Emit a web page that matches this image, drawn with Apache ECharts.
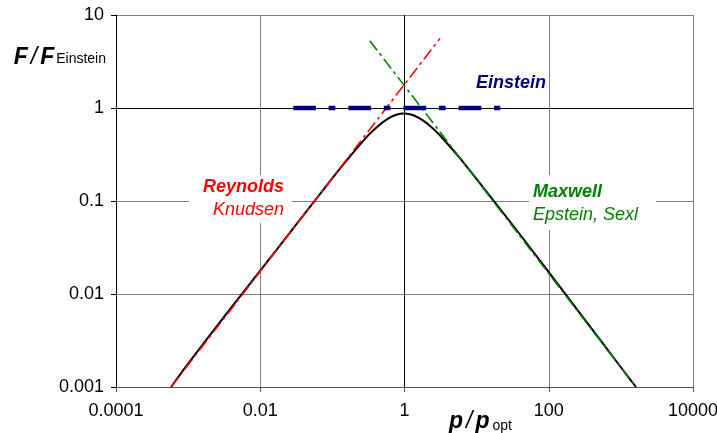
<!DOCTYPE html>
<html><head><meta charset="utf-8">
<script src="https://cdn.jsdelivr.net/npm/echarts@6/dist/echarts.min.js"></script>
<style>html,body{margin:0;padding:0;background:#fff}#c{width:717px;height:433px}</style>
</head><body><div id="c"></div>
<script>
// Combined curve F/F_Einstein vs p/p_opt
const curveP = [0.00058, 0.001, 0.00316, 0.01, 0.0316, 0.1, 0.178, 0.316, 0.42, 0.562, 0.75, 1, 1.33, 1.78, 2.37, 3.16, 5.62, 10, 31.6, 100, 316, 1000, 1620];
const curveF = [0.001, 0.00178, 0.0057, 0.0178, 0.056, 0.176, 0.305, 0.51, 0.63, 0.75, 0.84, 0.87, 0.835, 0.74, 0.62, 0.5, 0.3, 0.172, 0.0552, 0.0172, 0.0053, 0.00163, 0.001];
// Reynolds / Knudsen asymptote
const reynoldsP = [0.00058, 3.1];
const reynoldsF = [0.001, 5.6];
// Maxwell / Epstein, Sexl asymptote
const maxwellP = [0.33, 1620];
const maxwellF = [5.3, 0.001];
// Einstein level
const einsteinP = [0.0287, 21.3];
const einsteinF = [1, 1];
// Axis ticks
const xTicks = [0.0001, 0.01, 1, 100, 10000];
const xTickLabels = ['0.0001', '0.01', '1', '100', '10000'];
const yTicks = [0.001, 0.01, 0.1, 1, 10];
const yTickLabels = ['0.001', '0.01', '0.1', '1', '10'];

const FONT = '"Liberation Sans", Arial, sans-serif';
const zip = (a, b) => a.map((v, i) => [v, b[i]]);
const labelFor = (ticks, labels) => v => {
  const e = Math.round(Math.log10(v));
  const i = ticks.findIndex(t => Math.round(Math.log10(t)) === e);
  return i >= 0 ? labels[i] : '';
};
const GRID = '#7f7f7f';

const chart = echarts.init(document.getElementById('c'), null, {renderer: 'canvas'});
chart.setOption({
  animation: false,
  backgroundColor: '#fff',
  grid: {left: 116, right: 24, top: 15, bottom: 46, containLabel: false, outerBoundsMode: 'none'},
  xAxis: {
    type: 'log', logBase: 10, min: xTicks[0], max: xTicks[xTicks.length - 1],
    axisLine: {show: true, lineStyle: {color: '#555', width: 1}},
    axisTick: {show: true, length: 5, inside: false, customValues: xTicks, lineStyle: {color: '#555'}},
    axisLabel: {customValues: xTicks, formatter: labelFor(xTicks, xTickLabels), fontFamily: FONT, fontSize: 18, color: '#000', margin: 15, hideOverlap: false},
    splitLine: {show: true, lineStyle: {color: [GRID, GRID, '#000', GRID, GRID], width: 1}},
    minorTick: {show: false}, minorSplitLine: {show: false}
  },
  yAxis: {
    type: 'log', logBase: 10, min: yTicks[0], max: yTicks[yTicks.length - 1],
    axisLine: {show: true, lineStyle: {color: '#000', width: 1}},
    axisTick: {show: true, length: 5, inside: false, customValues: yTicks, lineStyle: {color: '#000'}},
    axisLabel: {customValues: yTicks, formatter: labelFor(yTicks, yTickLabels), fontFamily: FONT, fontSize: 18, color: '#000', margin: 12},
    splitLine: {show: true, lineStyle: {color: [GRID, GRID, GRID, '#000', GRID], width: 1}},
    minorTick: {show: false}, minorSplitLine: {show: false}
  },
  series: [
    {type: 'line', data: zip(curveP, curveF), smooth: 0.3, symbol: 'none', z: 2,
     lineStyle: {color: '#000', width: 2}},
    {type: 'line', data: zip(reynoldsP, reynoldsF), symbol: 'none', z: 3,
     lineStyle: {color: '#ff0000', width: 1.6, type: [12, 4, 3, 4], cap: 'butt'}},
    {type: 'line', data: zip(maxwellP, maxwellF), symbol: 'none', z: 3,
     lineStyle: {color: '#008000', width: 1.6, type: [12, 4, 3, 4], cap: 'butt'}},
    {type: 'line', data: zip(einsteinP, einsteinF), symbol: 'none', z: 4,
     lineStyle: {color: '#000080', width: 4.5, type: [22.7, 12.7, 6.7, 13], cap: 'butt'}}
  ],
  graphic: [
    {type: 'rect', z: 1, shape: {x: 189, y: 175, width: 103, height: 48}, style: {fill: '#fff'}},
    {type: 'rect', z: 1, shape: {x: 529, y: 175, width: 127, height: 55}, style: {fill: '#fff'}},
    {type: 'text', z: 5, x: 284, y: 187, style: {text: 'Reynolds', font: 'italic bold 18px ' + FONT, fill: '#ff0000', align: 'right', textAlign: 'right', verticalAlign: 'middle', textVerticalAlign: 'middle'}},
    {type: 'text', z: 5, x: 284, y: 210, style: {text: 'Knudsen', font: 'italic 18px ' + FONT, fill: '#ff0000', align: 'right', textAlign: 'right', verticalAlign: 'middle', textVerticalAlign: 'middle'}},
    {type: 'text', z: 5, x: 533, y: 192, style: {text: 'Maxwell', font: 'italic bold 18px ' + FONT, fill: '#008000', align: 'left', textAlign: 'left', verticalAlign: 'middle', textVerticalAlign: 'middle'}},
    {type: 'text', z: 5, x: 533, y: 215, style: {text: 'Epstein, Sexl', font: 'italic 18px ' + FONT, fill: '#008000', align: 'left', textAlign: 'left', verticalAlign: 'middle', textVerticalAlign: 'middle'}},
    {type: 'text', z: 5, x: 476, y: 83, style: {text: 'Einstein', font: 'italic bold 18px ' + FONT, fill: '#000080', align: 'left', textAlign: 'left', verticalAlign: 'middle', textVerticalAlign: 'middle'}},
    {type: 'text', z: 5, x: 106, y: 69, style: {
      text: '{b|F}{n|/}{b|F}{s|Einstein}', align: 'right', textAlign: 'right', verticalAlign: 'bottom', textVerticalAlign: 'bottom',
      rich: {
        b: {fontFamily: FONT, fontSize: 23, fontStyle: 'italic', fontWeight: 'bold', fill: '#000', verticalAlign: 'bottom'},
        n: {fontFamily: FONT, fontSize: 23, fontStyle: 'italic', fill: '#000', verticalAlign: 'bottom', padding: [0, 3, 0, 3]},
        s: {fontFamily: FONT, fontSize: 14, fill: '#000', verticalAlign: 'bottom', padding: [0, 0, 3, 2]}
      }}},
    {type: 'text', z: 5, x: 449, y: 433, style: {
      text: '{b|p}{n|/}{b|p}{s|opt}', align: 'left', textAlign: 'left', verticalAlign: 'bottom', textVerticalAlign: 'bottom',
      rich: {
        b: {fontFamily: FONT, fontSize: 23, fontStyle: 'italic', fontWeight: 'bold', fill: '#000', verticalAlign: 'bottom'},
        n: {fontFamily: FONT, fontSize: 23, fontStyle: 'italic', fill: '#000', verticalAlign: 'bottom', padding: [0, 3, 0, 3]},
        s: {fontFamily: FONT, fontSize: 14, fill: '#000', verticalAlign: 'bottom', padding: [0, 0, 0, 3]}
      }}}
  ]
});
</script></body></html>
